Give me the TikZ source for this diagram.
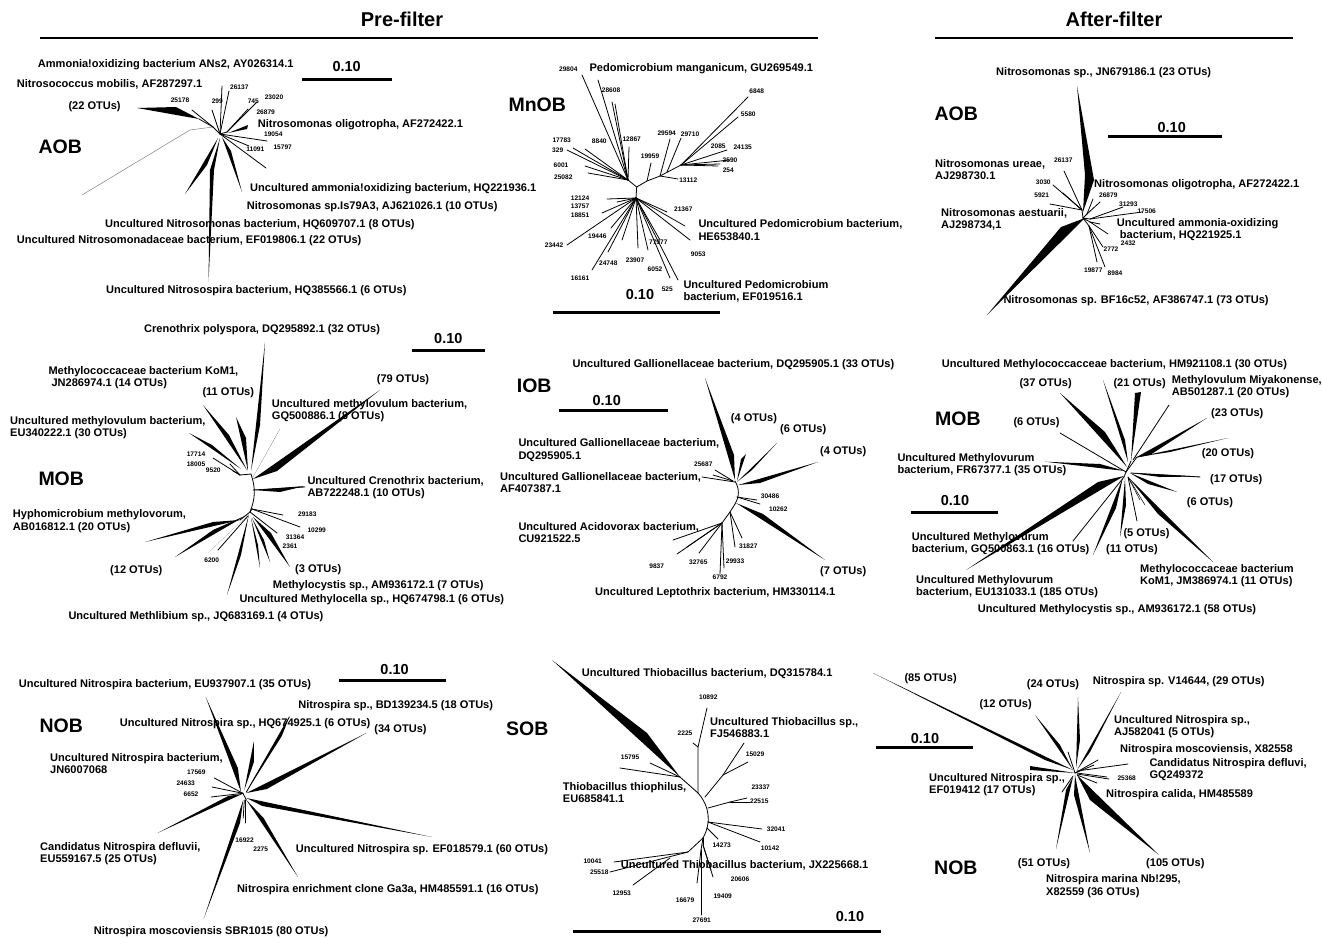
\documentclass[tikz,border=0pt]{standalone}
\usepackage{fontspec}
\setmainfont{Liberation Sans}
\newcommand{\mylab}{\fontsize{11.05}{12.2}\selectfont\bfseries}
\newcommand{\mynum}{\fontsize{6.6}{7.5}\selectfont\bfseries}
\newcommand{\mybig}{\fontsize{19.5}{22}\selectfont\bfseries}
\newcommand{\mysc}{\fontsize{14.5}{16}\selectfont\bfseries}
\newcommand{\myttl}{\fontsize{20}{22}\selectfont\bfseries}
\tikzset{
  lab/.style={font=\mylab, anchor=west, inner sep=0pt, align=left},
  num/.style={font=\mynum, inner sep=0pt},
  grp/.style={font=\mybig, anchor=west, inner sep=0pt},
  sc/.style={font=\mysc, inner sep=0pt},
  ttl/.style={font=\myttl, inner sep=0pt},
  br/.style={line width=0.8pt, line cap=round},
  scbar/.style={line width=3pt},
  hrule/.style={line width=1.6pt},
  wd/.style={fill=black},
}
\begin{document}
\begin{tikzpicture}[x=1pt,y=-1pt]
\useasboundingbox (0,0) rectangle (1322,937);
\fill[white] (0,0) rectangle (1322,937);

% ---------------- header
\node[ttl] (pre) at (402,19) {Pre-filter};
\node[ttl] (aft) at (1114,19) {After-filter};
\draw[hrule] (40,38) -- (818,38);
\draw[hrule] (935,38) -- (1293,38);

% ================= AOB (pre)
\coordinate (a1) at (220,134);
\coordinate (a1n) at (213,127);
\coordinate (a1r) at (227,132);
\draw[br] (a1) -- (a1n);
\draw[line width=0.5pt, gray] (a1n) -- (190,130) -- (82,195);
\fill[wd] (199,119) -- (176,107) -- (137,108) -- cycle;
\draw[br] (a1n) -- (199,119);
\draw[br] (a1n) -- (192,110);
\draw[br] (a1) -- (212,110);
\draw[br] (a1) -- (222,86);
\draw[br] (a1) -- (229,91);
\draw[br] (a1) -- (a1r);
\draw[br] (a1r) -- (248,109);
\draw[br] (a1r) -- (257,102);
\fill[wd] (228,133) -- (248,125) -- (247,129) -- cycle;
\draw[br] (a1) -- (267,141);
\draw[br] (a1) -- (266,168);
\draw[br] (a1) -- (249,146);
\fill[wd] (222,137) -- (231,151) -- (242,192) -- cycle;
\fill[wd] (218,138) -- (207,165) -- (185,194) -- cycle;
\fill[wd] (220,138) -- (214,170) -- (208.5,282) -- (210,170) -- cycle;

\node[lab] (a1t1) at (37.7,65) {Ammonia!oxidizing bacterium ANs2, AY026314.1};
\node[sc] (a1s) at (346.7,66.7) {0.10};
\draw[scbar] (301.7,79.3) -- (391.7,79.3);
\node[lab] (a1t2) at (16.7,84) {Nitrosococcus mobilis, AF287297.1};
\node[lab] (a1t3) at (68.3,106.7) {(22 OTUs)};
\node[grp] (a1g) at (38.3,146.7) {AOB};
\node[num] at (180,100) {25178};
\node[num] at (217.3,101.7) {299};
\node[num] at (239.3,87.3) {26137};
\node[num] at (253.3,101) {745};
\node[num] at (274,97.3) {23020};
\node[num] at (265.7,112.7) {26879};
\node[num] at (273.3,134.3) {19054};
\node[num] at (255.3,149) {11091};
\node[num] at (282.7,147.3) {15797};
\node[lab] at (257.7,125) {Nitrosomonas oligotropha, AF272422.1};
\node[lab] at (250,189) {Uncultured ammonia!oxidizing bacterium, HQ221936.1};
\node[lab] at (246.7,206.7) {Nitrosomonas sp.Is79A3, AJ621026.1 (10 OTUs)};
\node[lab] at (105,224.3) {Uncultured Nitrosomonas bacterium, HQ609707.1 (8 OTUs)};
\node[lab] at (16.7,241) {Uncultured Nitrosomonadaceae bacterium, EF019806.1 (22 OTUs)};
\node[lab] at (106,291) {Uncultured Nitrosospira bacterium, HQ385566.1 (6 OTUs)};

% ================= MnOB
\coordinate (mU) at (636.7,187);
\coordinate (mL) at (636,198);
\coordinate (mA) at (628,180);
\coordinate (mB) at (647,181);
\coordinate (mB2) at (660,176);
\coordinate (mB3) at (681,165);
\draw[br] (mL) -- (mU) -- (mA);
\draw[br] (mU) -- (mB) -- (mB2) -- (mB3);
\foreach \p in {(582,75),(598,80),(612,102),(615,104),(629,147),(585,149),(573,148),(567,150),(585,166),(588,173)}
  \draw[br] (mA) -- \p;
\draw[br] (mB) -- (651,163);
\draw[br] (mB2) -- (670,139);
\draw[br] (mB2) -- (678,179);
\draw[br] (667,172) -- (681,138);
\foreach \p in {(748,97),(738,117),(727,150),(730,160),(720,164),(718,166)}
  \draw[br] (mB3) -- \p;
\foreach \p in {(607,199),(617,202),(602,213),(567,245),(611,228),(608,252),(592,270),(622,240),(638,248),(648,250),(670,278),(678,280),(660,240),(667,212),(685,226),(690,240)}
  \draw[br] (mL) -- \p;

\node[grp] (mng) at (508.3,105) {MnOB};
\node[lab] at (589.3,68.3) {Pedomicrobium manganicum, GU269549.1};
\node[num] at (568.3,69.3) {29804};
\node[num] at (611,90.7) {28608};
\node[num] at (756.7,91.7) {6848};
\node[num] at (748.3,114.3) {5580};
\node[num] at (561.7,140.7) {17783};
\node[num] at (599.3,141.7) {8840};
\node[num] at (631.7,139.3) {12867};
\node[num] at (666.7,133.3) {29594};
\node[num] at (690,134.3) {29710};
\node[num] at (718.3,146.7) {2085};
\node[num] at (742.7,147.7) {24135};
\node[num] at (557.7,150) {329};
\node[num] at (650,156.7) {19959};
\node[num] at (730,160) {2590};
\node[num] at (728.3,170) {254};
\node[num] at (561,165) {6001};
\node[num] at (563.3,177.7) {25082};
\node[num] at (688.3,180) {13112};
\node[num] at (580,198.3) {12124};
\node[num] at (580,206.7) {13757};
\node[num] at (580,215.7) {18851};
\node[num] at (683.3,209.3) {21367};
\node[lab] at (698.3,230) {Uncultured Pedomicrobium bacterium,\\HE653840.1};
\node[num] at (597.3,236) {19446};
\node[num] at (554,245) {23442};
\node[num] at (658.3,242.7) {77977};
\node[num] at (698.3,254) {9053};
\node[num] at (608.3,263.3) {24748};
\node[num] at (635,260) {23907};
\node[num] at (655,269) {6052};
\node[num] at (580,278.3) {16161};
\node[num] at (667.3,289.3) {525};
\node[lab] at (683.3,291) {Uncultured Pedomicrobium\\bacterium, EF019516.1};
\node[sc] (mns) at (640,294.3) {0.10};
\draw[scbar] (553.3,312.3) -- (720,312.3);

% ================= AOB (after)
\coordinate (b1) at (1083,218);
\fill[wd] (1077,86) -- (1094,180) -- (1083,212) -- (1085,175) -- cycle;
\fill[wd] (1085,218) -- (1061,227) -- (987,315) -- cycle;
\draw[br] (b1) -- (1082,210);
\foreach \p in {(1064,171),(1053,185),(1063,193),(1050,204)}
  \draw[br] (1082,210) -- \p;
\draw[br] (b1) -- (1087,214);
\draw[br] (1087,214) -- (1100,202);
\draw[br] (1087,214) -- (1093,199);
\draw[br] (b1) -- (1090,219);
\draw[br] (1090,219) -- (1142,212);
\draw[br] (1090,219) -- (1123,207);
\draw[br] (b1) -- (1090,222);
\draw[br] (1090,222) -- (1108,234);
\draw[br] (1090,222) -- (1100,224);
\draw[br] (b1) -- (1089,226);
\draw[br] (1089,226) -- (1097,262);
\draw[br] (1089,226) -- (1105,267);
\draw[br] (1089,226) -- (1103,247);

\node[lab] at (996,72.7) {Nitrosomonas sp., JN679186.1 (23 OTUs)};
\node[grp] (b1g) at (934.3,114) {AOB};
\node[sc] (b1s) at (1171.7,127.3) {0.10};
\draw[scbar] (1108.3,136.7) -- (1221.7,136.7);
\node[lab] at (935,169.3) {Nitrosomonas ureae,\\AJ298730.1};
\node[num] at (1063.3,160) {26137};
\node[num] at (1043.3,182.3) {3030};
\node[num] at (1041.7,195.7) {5921};
\node[lab] at (1094,185) {Nitrosomonas oligotropha, AF272422.1};
\node[num] at (1108.3,195.7) {26879};
\node[num] at (1128.3,204.3) {31293};
\node[num] at (1146.7,211.7) {17506};
\node[lab] at (941,219.3) {Nitrosomonas aestuarii,\\AJ298734,1};
\node[lab] at (1116.7,229.2) {Uncultured ammonia-oxidizing\\\ bacterium, HQ221925.1};
\node[num] at (1128.3,243.3) {2432};
\node[num] at (1111,249.3) {2772};
\node[num] at (1093.3,270.7) {19877};
\node[num] at (1115,273.3) {8984};
\node[lab] at (1003.3,300.7) {Nitrosomonas sp. BF16c52, AF386747.1 (73 OTUs)};

% ================= MOB (pre)
\coordinate (c1t) at (251,474);
\coordinate (c1b) at (250,512);
\draw[br] (c1t) to[bend left=20] (c1b);
\fill[wd] (251,471) -- (260,425) -- (265,342) -- cycle;
\fill[wd] (247,470) -- (229,435) -- (203,405) -- cycle;
\fill[wd] (248,471) -- (246,438) -- (236,417) -- cycle;
\fill[wd] (241,469) -- (212,445) -- (189,433) -- cycle;
\draw[br] (c1t) -- (240,475);
\draw[br] (240,475) -- (213,458);
\draw[br] (240,475) -- (230,464);
\draw[br] (240,475) -- (233,471);
\fill[wd] (253,477) -- (280,429) -- (276,436) -- cycle;
\fill[wd] (253,479) -- (277,471) -- (380,390) -- cycle;
\draw[br] (253,490) -- (305,487);
\fill[wd] (253,490) -- (305,486) -- (280,492) -- cycle;
\draw[br] (c1b) -- (252,509);
\draw[br] (252,509) -- (283,515);
\draw[br] (252,509) -- (300,527);
\draw[br] (c1b) -- (277,533);
\fill[wd] (253,517) -- (271,533) -- (290,567) -- cycle;
\fill[wd] (252,518) -- (264,540) -- (270,562) -- cycle;
\fill[wd] (251,518) -- (258,545) -- (260,568) -- cycle;
\fill[wd] (249,514) -- (241,555) -- (227,595) -- cycle;
\fill[gray] (247,516) -- (212,549) -- (208,553) -- cycle;
\draw[br] (248,516) -- (218,550);
\fill[wd] (247,515) -- (213,530) -- (175,557) -- cycle;
\fill[wd] (240,520) -- (213,522) -- (145,542) -- cycle;
\draw[br] (c1b) -- (240,520);

\node[lab] at (144,329.3) {Crenothrix polyspora, DQ295892.1 (32 OTUs)};
\node[sc] (c1s) at (448.3,339) {0.10};
\draw[scbar] (411.7,350.7) -- (485,350.7);
\node[lab] at (48.3,377.5) {Methylococcaceae bacterium KoM1,\\\ JN286974.1 (14 OTUs)};
\node[lab] at (376.7,379.3) {(79 OTUs)};
\node[lab] at (202.3,392.7) {(11 OTUs)};
\node[lab] at (271.7,410.8) {Uncultured methylovulum bacterium,\\GQ500886.1 (8 OTUs)};
\node[lab] at (10,427.8) {Uncultured methylovulum bacterium,\\EU340222.1 (30 OTUs)};
\node[num] at (196,454.3) {17714};
\node[num] at (196,464) {18005};
\node[num] at (213.3,470.7) {9520};
\node[grp] (c1g) at (38.3,478.3) {MOB};
\node[lab] at (307.3,487.5) {Uncultured Crenothrix bacterium,\\AB722248.1 (10 OTUs)};
\node[lab] at (12.7,521.2) {Hyphomicrobium methylovorum,\\AB016812.1 (20 OTUs)};
\node[num] at (307.3,514) {29183};
\node[num] at (316.7,530) {10299};
\node[num] at (295,537.3) {31364};
\node[num] at (290,546.7) {2361};
\node[num] at (211.7,560) {6200};
\node[lab] at (110,570.7) {(12 OTUs)};
\node[lab] at (295,569.3) {(3 OTUs)};
\node[lab] at (272.7,585.7) {Methylocystis sp., AM936172.1 (7 OTUs)};
\node[lab] at (239.3,600) {Uncultured Methylocella sp., HQ674798.1 (6 OTUs)};
\node[lab] at (68.3,616.7) {Uncultured Methlibium sp., JQ683169.1 (4 OTUs)};

% ================= IOB
\coordinate (d1t) at (735,481);
\coordinate (d1b) at (735,504);
\draw[br] (d1t) to[bend left=30] (d1b);
\fill[wd] (735,480) -- (734,455) -- (705,378) -- cycle;
\fill[wd] (737,481) -- (746,454) -- (741,459) -- cycle;
\fill[wd] (737,482) -- (752,470) -- (777,443) -- cycle;
\fill[wd] (738,485) -- (760,483) -- (818,462) -- cycle;
\draw[br] (733,481) -- (715,470);
\draw[br] (733,481) -- (713,475);
\draw[br] (735,482) -- (702,477);
\draw[br] (737,497) -- (757,500);
\draw[br] (737,497) -- (760,504);
\fill[wd] (736,503) -- (763,514) -- (825,560) -- cycle;
\draw[br] (d1b) -- (730,512) -- (722,523);
\foreach \p in {(673,540),(677,554),(687,547),(699,553),(720,574),(724,568)}
  \draw[br] (722,523) -- \p;
\draw[br] (730,512) -- (742,538);
\draw[br] (730,512) -- (735,547);

\node[lab] at (572.3,365) {Uncultured Gallionellaceae bacterium, DQ295905.1 (33 OTUs)};
\node[grp] (d1g) at (516.7,386) {IOB};
\node[sc] (d1s) at (606.7,400.7) {0.10};
\draw[scbar] (559.3,410.7) -- (668.3,410.7);
\node[lab] at (730.7,418.3) {(4 OTUs)};
\node[lab] at (780,430) {(6 OTUs)};
\node[lab] at (518.3,450) {Uncultured Gallionellaceae bacterium,\\DQ295905.1};
\node[lab] at (820,451.7) {(4 OTUs)};
\node[num] at (703.3,464.3) {25687};
\node[lab] at (500,482.3) {Uncultured Gallionellaceae bacterium,\\AF407387.1};
\node[num] at (770,496.7) {30486};
\node[num] at (778.3,509.3) {10262};
\node[lab] at (518.3,532.5) {Uncultured Acidovorax bacterium,\\CU921522.5};
\node[num] at (748.3,546.7) {31827};
\node[num] at (656.7,566) {9837};
\node[num] at (698.3,562.3) {32765};
\node[num] at (735,561.7) {29933};
\node[num] at (720,577.3) {6792};
\node[lab] at (820,571.7) {(7 OTUs)};
\node[lab] at (595,592.7) {Uncultured Leptothrix bacterium, HM330114.1};

% ================= MOB (after)
\coordinate (e1) at (1126,472);
\fill[wd] (1127,467) -- (1105,432) -- (1060,393) -- cycle;
\fill[wd] (1128,462) -- (1125,440) -- (1103,380) -- cycle;
\fill[wd] (1131,461) -- (1135,393) -- (1141,392) -- cycle;
\draw[br] (e1) -- (1131,461);
\draw[br] (1133,460) -- (1169,405);
\fill[wd] (1135,458) -- (1150,455) -- (1207,418) -- cycle;
\fill[wd] (1137,457) -- (1228,438) -- (1170,452) -- cycle;
\draw[br] (e1) -- (1137,457);
\draw[br] (e1) -- (1060,433);
\fill[wd] (1125,471) -- (1100,464) -- (1045,461.7) -- cycle;
\draw[br] (1131,473) -- (1200,477);
\fill[wd] (1131,473) -- (1200,476.5) -- (1160,477) -- cycle;
\fill[wd] (1130,473) -- (1148,484) -- (1177,492) -- cycle;
\fill[wd] (1128,477) -- (1158,514) -- (1213,562) -- cycle;
\draw[br] (1128,477) -- (1137,521);
\draw[line width=0.5pt] (1128,477) -- (1140,500);
\draw[line width=0.5pt] (1128,477) -- (1145,505);
\fill[wd] (1125,478) -- (1126,505) -- (1120,537) -- cycle;
\fill[wd] (1123,477) -- (1116,508) -- (1093,555) -- cycle;
\draw[br] (1124,477) -- (1073,541);
\fill[wd] (1124,476) -- (1098,482) -- (966,570) -- cycle;
\draw[br] (e1) -- (1124,477);

\node[lab] at (941.7,365) {Uncultured Methylococcacceae bacterium, HM921108.1 (30 OTUs)};
\node[lab] at (1019.3,384) {(37 OTUs)};
\node[lab] at (1113.3,384) {(21 OTUs)};
\node[lab] at (1171.7,386.3) {Methylovulum Miyakonense,\\AB501287.1 (20 OTUs)};
\node[grp] (e1g) at (935,418.3) {MOB};
\node[lab] at (1013.3,422.7) {(6 OTUs)};
\node[lab] at (1211,413.3) {(23 OTUs)};
\node[lab] at (1201.7,454) {(20 OTUs)};
\node[lab] at (897.3,464.5) {Uncultured Methylovurum\\bacterium, FR67377.1 (35 OTUs)};
\node[lab] at (1210,480) {(17 OTUs)};
\node[sc] (e1s) at (955,500.7) {0.10};
\draw[scbar] (910.7,512.7) -- (998.3,512.7);
\node[lab] at (1186.7,502.7) {(6 OTUs)};
\node[lab] at (1123.3,534) {(5 OTUs)};
\node[lab] at (911.7,543.7) {Uncultured Methylovurum\\bacterium, GQ500863.1 (16 OTUs)};
\node[lab] at (1106,550) {(11 OTUs)};
\node[lab] at (1140,575.5) {Methylococcaceae bacterium\\KoM1, JM386974.1 (11 OTUs)};
\node[lab] at (916,586.3) {Uncultured Methylovurum\\bacterium, EU131033.1 (185 OTUs)};
\node[lab] at (977.7,609.3) {Uncultured Methylocystis sp., AM936172.1 (58 OTUs)};

% ================= NOB (pre)
\coordinate (f1) at (242.9,793.3);
\fill[wd] (241,792) -- (237.9,768) -- (205.7,697) -- cycle;
\fill[wd] (244.3,790) -- (253.9,762) -- (253.9,741) -- cycle;
\fill[wd] (246.4,792) -- (289.3,717) -- (281.8,736) -- cycle;
\draw[br] (246.4,792) -- (289.3,717);
\fill[wd] (246.4,793) -- (266.8,789) -- (366.4,733) -- cycle;
\fill[wd] (246.4,798) -- (262.5,806) -- (431.8,837) -- cycle;
\fill[wd] (246.4,800) -- (263.6,818) -- (297.9,877) -- cycle;
\draw[br] (245.4,800) -- (245.4,823);
\draw[br] (244.3,800) -- (243.2,818);
\fill[wd] (243.2,800) -- (240,823) -- (203.6,919) -- cycle;
\fill[wd] (242.1,794) -- (228.2,796) -- (157.5,833) -- cycle;
\draw[br] (f1) -- (214.3,778);
\draw[br] (f1) -- (212.1,787);
\draw[br] (f1) -- (211.1,797);
\draw[br] (f1) -- (246.4,800);

\node[sc] (f1s) at (394.6,669.5) {0.10};
\draw[scbar] (338.6,680.5) -- (445.7,680.5);
\node[lab] at (18.6,684.3) {Uncultured Nitrospira bacterium, EU937907.1 (35 OTUs)};
\node[lab] at (298.2,706) {Nitrospira sp., BD139234.5 (18 OTUs)};
\node[grp] (f1g) at (39.3,726) {NOB};
\node[lab] at (119.7,724) {Uncultured Nitrospira sp., HQ674925.1 (6 OTUs)};
\node[lab] at (374.2,730) {(34 OTUs)};
\node[lab] at (50,763.5) {Uncultured Nitrospira bacterium,\\JN6007068};
\node[num] at (196.4,772.7) {17569};
\node[num] at (185.7,783.3) {24633};
\node[num] at (191,794) {6652};
\node[num] at (244.6,840) {16922};
\node[num] at (260.7,849) {2275};
\node[lab] at (40,853.7) {Candidatus Nitrospira defluvii,\\EU559167.5 (25 OTUs)};
\node[lab] at (295.7,849.3) {Uncultured Nitrospira sp. EF018579.1 (60 OTUs)};
\node[lab] at (236.8,889.3) {Nitrospira enrichment clone Ga3a, HM485591.1 (16 OTUs)};
\node[lab] at (93.6,931.7) {Nitrospira moscoviensis SBR1015 (80 OTUs)};

% ================= SOB
\coordinate (g1t) at (698,793);
\coordinate (g1b) at (703,838);
\coordinate (g1q) at (680,777);
\draw[br] (g1t) to[bend left=35] (g1b);
\draw[br] (g1t) -- (698,747) -- (707,708);
\draw[br] (698,747) -- (693,743);
\draw[br] (g1t) -- (g1q);
\fill[wd] (g1q) -- (647,733) -- (552,660) -- cycle;
\draw[br] (g1q) -- (620,768);
\draw[br] (g1q) -- (650,763);
\draw[br] (705,797) -- (723,775);
\draw[br] (723,775) -- (744,743);
\draw[br] (723,775) -- (748,762);
\draw[br] (708,808) -- (730,802);
\draw[br] (730,802) -- (747,798);
\draw[br] (730,802) -- (750,802);
\draw[br] (708,822) -- (762,829);
\draw[br] (708,822) -- (760,842);
\draw[br] (707,828) -- (718,839);
\draw[br] (g1b) -- (688,852) -- (610,872);
\draw[br] (688,852) -- (614,862);
\draw[br] (670,858) -- (633,885);
\draw[br] (g1b) -- (701,850);
\draw[br] (701,850) -- (697,883);
\draw[br] (701,850) -- (701,915);
\draw[br] (g1b) -- (703,845);
\draw[br] (703,845) -- (713,877);
\draw[br] (703,845) -- (711,870);

\node[lab] at (581.7,674) {Uncultured Thiobacillus bacterium, DQ315784.1};
\node[grp] (g1g) at (506,728.3) {SOB};
\node[num] at (708.3,697.3) {10892};
\node[lab] at (710,727.8) {Uncultured Thiobacillus sp.,\\FJ546883.1};
\node[num] at (685,733.3) {2225};
\node[num] at (630,757.3) {15795};
\node[num] at (755,754) {15029};
\node[lab] at (562.7,792.8) {Thiobacillus thiophilus,\\EU685841.1};
\node[num] at (760.7,787.7) {23337};
\node[num] at (759.3,801) {22515};
\node[num] at (776,829) {32041};
\node[num] at (770,848.3) {10142};
\node[num] at (721.7,845) {14273};
\node[num] at (592.7,861.7) {10041};
\node[lab] at (620.7,865) {Uncultured Thiobacillus bacterium, JX225668.1};
\node[num] at (599.3,872.7) {25518};
\node[num] at (740,879.3) {20606};
\node[num] at (621.7,893.3) {12953};
\node[num] at (722.7,896) {19409};
\node[num] at (685,900) {16679};
\node[num] at (701.7,920.7) {27691};
\node[sc] (g1s) at (850,916.7) {0.10};
\draw[scbar] (573,931.7) -- (881,931.7);

% ================= NOB (after)
\coordinate (h1) at (1075,773);
\fill[wd] (1073,770) -- (1045,760) -- (873,673) -- cycle;
\fill[wd] (1073,770) -- (1060,745) -- (1035,715) -- cycle;
\fill[wd] (1076,768) -- (1078,697) -- (1080,740) -- cycle;
\draw[br] (h1) -- (1068,752);
\fill[wd] (1077,770) -- (1121,692) -- (1090,752) -- cycle;
\draw[br] (h1) -- (1098,760);
\draw[br] (h1) -- (1094,765);
\draw[br] (1077,771) -- (1128,764);
\draw[br] (1077,773) -- (1107,777);
\draw[br] (1077,774) -- (1109,779);
\draw[br] (1077,775) -- (1097,783);
\fill[wd] (1077,775) -- (1090,800) -- (1159,855) -- cycle;
\fill[wd] (1075,775) -- (1074,795) -- (1090,853) -- cycle;
\fill[wd] (1073,777) -- (1066,790) -- (1056,849) -- cycle;
\fill[wd] (1075,773) -- (1030,766) -- (1030,770) -- cycle;
\draw[br] (1073,776) -- (1062,792);

\node[lab] at (904.3,678.3) {(85 OTUs)};
\node[lab] at (1026.7,685) {(24 OTUs)};
\node[lab] at (1092.7,681.7) {Nitrospira sp. V14644, (29 OTUs)};
\node[lab] at (979.3,705) {(12 OTUs)};
\node[lab] at (1114,726.3) {Uncultured Nitrospira sp.,\\AJ582041 (5 OTUs)};
\node[sc] (h1s) at (925,738.3) {0.10};
\draw[scbar] (876,747.3) -- (972.7,747.3);
\node[lab] at (1120,750) {Nitrospira moscoviensis, X82558};
\node[lab] at (1149.3,769.7) {Candidatus Nitrospira defluvi,\\GQ249372};
\node[lab] at (929,785) {Uncultured Nitrospira sp.,\\EF019412 (17 OTUs)};
\node[num] at (1126.7,778.3) {25368};
\node[lab] at (1106,795) {Nitrospira calida, HM485589};
\node[lab] at (1017.7,863.3) {(51 OTUs)};
\node[grp] (h1g) at (934,867.3) {NOB};
\node[lab] at (1146,863.3) {(105 OTUs)};
\node[lab] at (1046,886.2) {Nitrospira marina Nb!295,\\X82559 (36 OTUs)};
\end{tikzpicture}
\end{document}
